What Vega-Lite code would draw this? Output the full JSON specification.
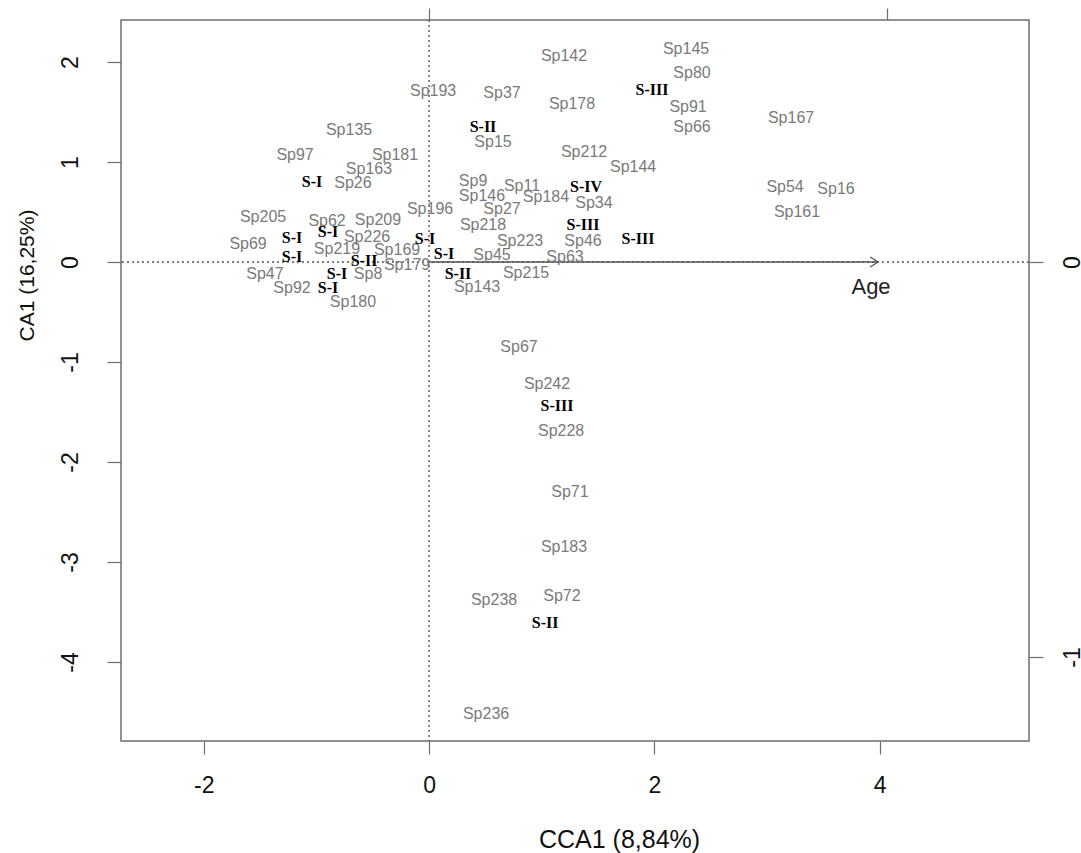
{
  "$schema": "https://vega.github.io/schema/vega-lite/v6.json",
  "width": 908,
  "height": 721,
  "autosize": "none",
  "padding": {"left": 121, "top": 20, "right": 52, "bottom": 112},
  "background": "white",
  "config": {
    "view": {"stroke": "#6e6e6e", "strokeWidth": 1.5},
    "axis": {"domain": false, "grid": false, "tickColor": "#6e6e6e", "tickWidth": 1.2, "labelColor": "#111111", "labelFont": "Liberation Sans", "titleFont": "Liberation Sans", "labelFontSize": 23, "titleFontWeight": "normal", "titleColor": "#111111"}
  },
  "datasets": {
    "pts": [
      {"name": "Sp142", "x": 1.198, "y": 2.058, "kind": "sp"},
      {"name": "Sp145", "x": 2.281, "y": 2.128, "kind": "sp"},
      {"name": "Sp80", "x": 2.334, "y": 1.888, "kind": "sp"},
      {"name": "Sp193", "x": 0.036, "y": 1.708, "kind": "sp"},
      {"name": "Sp37", "x": 0.648, "y": 1.688, "kind": "sp"},
      {"name": "Sp178", "x": 1.269, "y": 1.578, "kind": "sp"},
      {"name": "Sp91", "x": 2.299, "y": 1.548, "kind": "sp"},
      {"name": "Sp135", "x": -0.71, "y": 1.319, "kind": "sp"},
      {"name": "Sp66", "x": 2.334, "y": 1.349, "kind": "sp"},
      {"name": "Sp167", "x": 3.213, "y": 1.439, "kind": "sp"},
      {"name": "Sp15", "x": 0.568, "y": 1.199, "kind": "sp"},
      {"name": "Sp97", "x": -1.189, "y": 1.069, "kind": "sp"},
      {"name": "Sp181", "x": -0.302, "y": 1.069, "kind": "sp"},
      {"name": "Sp212", "x": 1.376, "y": 1.099, "kind": "sp"},
      {"name": "Sp163", "x": -0.533, "y": 0.929, "kind": "sp"},
      {"name": "Sp144", "x": 1.811, "y": 0.949, "kind": "sp"},
      {"name": "Sp26", "x": -0.675, "y": 0.789, "kind": "sp"},
      {"name": "Sp9", "x": 0.391, "y": 0.809, "kind": "sp"},
      {"name": "Sp11", "x": 0.825, "y": 0.759, "kind": "sp"},
      {"name": "Sp54", "x": 3.16, "y": 0.749, "kind": "sp"},
      {"name": "Sp16", "x": 3.612, "y": 0.729, "kind": "sp"},
      {"name": "Sp146", "x": 0.47, "y": 0.659, "kind": "sp"},
      {"name": "Sp184", "x": 1.038, "y": 0.649, "kind": "sp"},
      {"name": "Sp34", "x": 1.464, "y": 0.589, "kind": "sp"},
      {"name": "Sp27", "x": 0.648, "y": 0.529, "kind": "sp"},
      {"name": "Sp196", "x": 0.009, "y": 0.529, "kind": "sp"},
      {"name": "Sp161", "x": 3.266, "y": 0.5, "kind": "sp"},
      {"name": "Sp205", "x": -1.473, "y": 0.45, "kind": "sp"},
      {"name": "Sp62", "x": -0.905, "y": 0.41, "kind": "sp"},
      {"name": "Sp209", "x": -0.453, "y": 0.42, "kind": "sp"},
      {"name": "Sp218", "x": 0.479, "y": 0.37, "kind": "sp"},
      {"name": "Sp226", "x": -0.55, "y": 0.25, "kind": "sp"},
      {"name": "Sp223", "x": 0.808, "y": 0.21, "kind": "sp"},
      {"name": "Sp46", "x": 1.367, "y": 0.21, "kind": "sp"},
      {"name": "Sp69", "x": -1.606, "y": 0.18, "kind": "sp"},
      {"name": "Sp219", "x": -0.817, "y": 0.13, "kind": "sp"},
      {"name": "Sp169", "x": -0.284, "y": 0.12, "kind": "sp"},
      {"name": "Sp45", "x": 0.559, "y": 0.07, "kind": "sp"},
      {"name": "Sp63", "x": 1.207, "y": 0.05, "kind": "sp"},
      {"name": "Sp179", "x": -0.195, "y": -0.03, "kind": "sp"},
      {"name": "Sp215", "x": 0.861, "y": -0.11, "kind": "sp"},
      {"name": "Sp47", "x": -1.456, "y": -0.12, "kind": "sp"},
      {"name": "Sp8", "x": -0.541, "y": -0.12, "kind": "sp"},
      {"name": "Sp92", "x": -1.216, "y": -0.26, "kind": "sp"},
      {"name": "Sp143", "x": 0.426, "y": -0.25, "kind": "sp"},
      {"name": "Sp180", "x": -0.675, "y": -0.4, "kind": "sp"},
      {"name": "Sp67", "x": 0.799, "y": -0.849, "kind": "sp"},
      {"name": "Sp242", "x": 1.047, "y": -1.219, "kind": "sp"},
      {"name": "Sp228", "x": 1.172, "y": -1.688, "kind": "sp"},
      {"name": "Sp71", "x": 1.251, "y": -2.298, "kind": "sp"},
      {"name": "Sp183", "x": 1.198, "y": -2.847, "kind": "sp"},
      {"name": "Sp238", "x": 0.577, "y": -3.377, "kind": "sp"},
      {"name": "Sp72", "x": 1.18, "y": -3.337, "kind": "sp"},
      {"name": "Sp236", "x": 0.506, "y": -4.516, "kind": "sp"},
      {"name": "S-III", "x": 1.979, "y": 1.718, "kind": "site"},
      {"name": "S-II", "x": 0.479, "y": 1.349, "kind": "site"},
      {"name": "S-I", "x": -1.038, "y": 0.799, "kind": "site"},
      {"name": "S-IV", "x": 1.393, "y": 0.749, "kind": "site"},
      {"name": "S-I", "x": -0.896, "y": 0.3, "kind": "site"},
      {"name": "S-III", "x": 1.367, "y": 0.37, "kind": "site"},
      {"name": "S-I", "x": -1.216, "y": 0.24, "kind": "site"},
      {"name": "S-I", "x": -0.036, "y": 0.23, "kind": "site"},
      {"name": "S-III", "x": 1.855, "y": 0.23, "kind": "site"},
      {"name": "S-I", "x": 0.133, "y": 0.08, "kind": "site"},
      {"name": "S-I", "x": -1.216, "y": 0.05, "kind": "site"},
      {"name": "S-II", "x": -0.577, "y": 0.01, "kind": "site"},
      {"name": "S-II", "x": 0.257, "y": -0.12, "kind": "site"},
      {"name": "S-I", "x": -0.817, "y": -0.12, "kind": "site"},
      {"name": "S-I", "x": -0.896, "y": -0.26, "kind": "site"},
      {"name": "S-III", "x": 1.136, "y": -1.439, "kind": "site"},
      {"name": "S-II", "x": 1.03, "y": -3.606, "kind": "site"}
    ],
    "arrowhead": [
      {"ax": 3.915, "ay": 0.05, "o": 1},
      {"ax": 3.985, "ay": 0.0, "o": 2},
      {"ax": 3.915, "ay": -0.05, "o": 3}
    ]
  },
  "resolve": {"axis": {"x": "independent", "y": "independent"}},
  "layer": [
    {
      "data": {"values": [{"v": 0}]},
      "mark": {"type": "rule", "strokeDash": [2, 3], "color": "#555555", "strokeWidth": 1.4},
      "encoding": {
        "x": {"field": "v", "type": "quantitative",
          "scale": {"domain": [-2.734, 5.325], "nice": false, "zero": false},
          "axis": {"orient": "top", "values": [0, 4.065], "labels": false, "tickSize": 12, "title": null}}
      }
    },
    {
      "data": {"values": [{"v": 0}]},
      "mark": {"type": "rule", "strokeDash": [2, 3], "color": "#555555", "strokeWidth": 1.4},
      "encoding": {
        "y": {"field": "v", "type": "quantitative",
          "scale": {"domain": [-4.79, 2.42], "nice": false, "zero": false},
          "axis": {"orient": "right", "values": [0, -3.95], "labelExpr": "datum.value == 0 ? '0' : '-1'", "tickSize": 14, "labelPadding": 29, "labelAngle": -90, "labelAlign": "center", "labelBaseline": "middle", "title": null}}
      }
    },
    {
      "data": {"values": [{"x0": 0, "x1": 3.985, "y0": 0}]},
      "mark": {"type": "rule", "color": "#555555", "strokeWidth": 1.3},
      "encoding": {
        "x": {"field": "x0", "type": "quantitative", "scale": {"domain": [-2.734, 5.325], "nice": false, "zero": false}, "axis": null},
        "x2": {"field": "x1"},
        "y": {"field": "y0", "type": "quantitative", "scale": {"domain": [-4.79, 2.42], "nice": false, "zero": false}, "axis": null}
      }
    },
    {
      "data": {"name": "arrowhead"},
      "mark": {"type": "line", "color": "#555555", "strokeWidth": 1.3},
      "encoding": {
        "x": {"field": "ax", "type": "quantitative", "scale": {"domain": [-2.734, 5.325], "nice": false, "zero": false}, "axis": null},
        "y": {"field": "ay", "type": "quantitative", "scale": {"domain": [-4.79, 2.42], "nice": false, "zero": false}, "axis": null},
        "order": {"field": "o"}
      }
    },
    {
      "data": {"name": "pts"},
      "transform": [{"filter": "datum.kind == 'sp'"}],
      "mark": {"type": "text", "font": "Liberation Sans", "fontSize": 16, "color": "#7a7a7a", "align": "center", "baseline": "middle"},
      "encoding": {
        "x": {"field": "x", "type": "quantitative",
          "scale": {"domain": [-2.734, 5.325], "nice": false, "zero": false},
          "axis": {"orient": "bottom", "values": [-2, 0, 2, 4], "labelExpr": "'' + datum.value", "tickSize": 13, "labelPadding": 31, "labelBaseline": "middle", "title": "CCA1 (8,84%)", "titleFontSize": 25, "titleX": 498, "titleY": 98, "titleAlign": "center", "titleBaseline": "middle"}},
        "y": {"field": "y", "type": "quantitative",
          "scale": {"domain": [-4.79, 2.42], "nice": false, "zero": false},
          "axis": {"orient": "left", "values": [-4, -3, -2, -1, 0, 1, 2], "labelExpr": "'' + datum.value", "tickSize": 14, "labelPadding": 37, "labelAngle": -90, "labelAlign": "center", "labelBaseline": "middle", "title": "CA1 (16,25%)", "titleFontSize": 21, "titleAngle": -90, "titleX": -94, "titleY": 255, "titleAlign": "center", "titleBaseline": "middle"}},
        "text": {"field": "name"}
      }
    },
    {
      "data": {"name": "pts"},
      "transform": [{"filter": "datum.kind == 'site'"}],
      "mark": {"type": "text", "font": "Liberation Serif", "fontWeight": "bold", "fontSize": 16, "color": "#000000", "align": "center", "baseline": "middle"},
      "encoding": {
        "x": {"field": "x", "type": "quantitative", "scale": {"domain": [-2.734, 5.325], "nice": false, "zero": false}, "axis": null},
        "y": {"field": "y", "type": "quantitative", "scale": {"domain": [-4.79, 2.42], "nice": false, "zero": false}, "axis": null},
        "text": {"field": "name"}
      }
    },
    {
      "data": {"values": [{"label": "Age", "lx": 3.923, "ly": -0.25}]},
      "mark": {"type": "text", "font": "Liberation Sans", "fontSize": 22, "color": "#222222", "align": "center", "baseline": "middle"},
      "encoding": {
        "x": {"field": "lx", "type": "quantitative", "scale": {"domain": [-2.734, 5.325], "nice": false, "zero": false}, "axis": null},
        "y": {"field": "ly", "type": "quantitative", "scale": {"domain": [-4.79, 2.42], "nice": false, "zero": false}, "axis": null},
        "text": {"field": "label"}
      }
    }
  ]
}
